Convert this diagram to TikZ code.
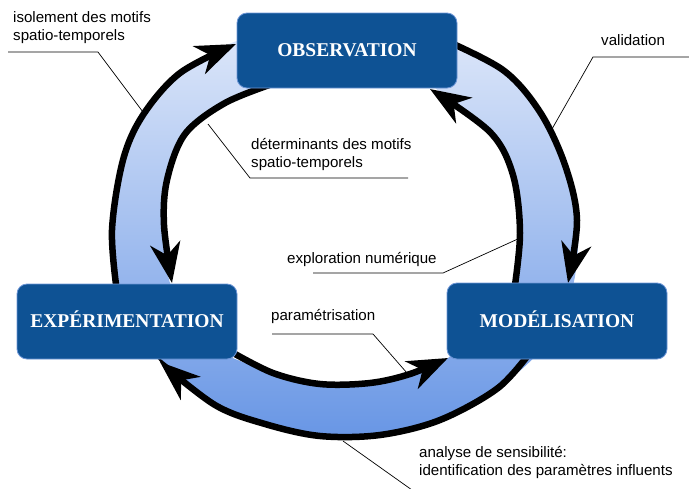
\documentclass[tikz,border=0pt]{standalone}
\usepackage{fontspec}
\setmainfont{Liberation Serif}
\newfontfamily\labelfont{Liberation Sans}
\usetikzlibrary{arrows.meta}
\definecolor{boxblue}{RGB}{14,82,148}
\definecolor{boxedge}{RGB}{110,150,215}
\definecolor{ringtop}{RGB}{224,233,250}
\definecolor{ringbot}{RGB}{104,150,229}
\begin{document}
\begin{tikzpicture}[x=1pt,y=-1pt,
  stagebox/.style={rectangle, rounded corners=10pt, fill=boxblue, draw=boxedge, line width=0.8pt,
    minimum width=220pt, minimum height=75pt, inner sep=0pt, text=white,
    font=\fontsize{19.5}{21}\selectfont\bfseries, text height=12.9pt, text depth=0pt},
  cyclearc/.style={line width=6.5pt, -{Stealth[length=40pt,width=30pt,inset=12pt]}},
  leader/.style={line width=0.7pt},
  lbl/.style={font=\labelfont\fontsize{15.1}{17.5}\selectfont, inner sep=0pt, align=left}
]
\useasboundingbox (0,0) rectangle (689,488);

% ring band
\shade[even odd rule, top color=ringtop, bottom color=ringbot]
  plot[smooth cycle, tension=0.55] coordinates {
    (180,73) (240,40) (345,22) (440,38) (503,70) (540,112) (565,165) (578,225)
    (572,290) (545,345) (498,388) (440,420) (380,435) (320,436) (265,424) (215,405)
    (165,365) (140,330) (117,292) (112,230) (123,160) (143,115)}
  plot[smooth cycle, tension=0.55] coordinates {
    (275,83) (225,103) (185,134) (167,180) (164,225) (170,283) (200,340) (273,373)
    (320,384) (370,383) (410,374) (448,358) (490,320) (514,285) (520,233) (513,175)
    (490,132) (450,102) (420,80) (345,75)};

% cycle arcs
\draw[cyclearc] plot[smooth, tension=0.55] coordinates {
  (117,292) (112,230) (123,160) (143,115) (180,73) (236,44)};
\draw[cyclearc] plot[smooth, tension=0.55] coordinates {
  (275,83) (225,103) (185,134) (167,180) (164,225) (172,283)};
\draw[cyclearc] plot[smooth, tension=0.55] coordinates {
  (440,38) (503,70) (540,112) (565,165) (577,220) (568,283)};
\draw[cyclearc] plot[smooth, tension=0.55] coordinates {
  (514,292) (520,233) (513,175) (490,132) (430,89)};
\draw[cyclearc] plot[smooth, tension=0.55] coordinates {
  (228,350) (273,373) (320,384) (370,383) (410,374) (448,358)};
\draw[cyclearc] plot[smooth, tension=0.55] coordinates {
  (532,350) (498,388) (440,420) (380,435) (320,436) (265,424) (215,405) (160,362)};

% stage boxes
\node[stagebox] (obs) at (347,50.5) {OBSERVATION};
\node[stagebox] (exp) at (127,321.5) {EXPÉRIMENTATION};
\node[stagebox, minimum height=76pt] (mod) at (557,321) {MODÉLISATION};

% labels (anchored at the baseline of the last line)
\node[lbl, anchor=base west] (liso) at (13,40) {isolement des motifs\\spatio-temporels};
\node[lbl, anchor=base west] (ldet) at (251,167) {déterminants des motifs\\spatio-temporels};
\node[lbl, anchor=base west] (lval) at (601,45) {validation};
\node[lbl, anchor=base west] (lexp) at (287,263) {exploration numérique};
\node[lbl, anchor=base west] (lpar) at (271,320) {paramétrisation};
\node[lbl, anchor=base west] (lana) at (419,475) {analyse de sensibilité:\\identification des paramètres influents};

% leader lines
\coordinate (iso0) at (8,52);   \coordinate (iso1) at (98,52);   \coordinate (iso2) at (143,112);
\coordinate (det0) at (208,124); \coordinate (det1) at (250,178); \coordinate (det2) at (408,178);
\coordinate (val0) at (689,57);  \coordinate (val1) at (593,57);  \coordinate (val2) at (552,129);
\coordinate (exn0) at (313,273); \coordinate (exn1) at (443,273); \coordinate (exn2) at (520,238);
\coordinate (par0) at (272,334); \coordinate (par1) at (373,334); \coordinate (par2) at (407,373);
\coordinate (ana0) at (343,441); \coordinate (ana1) at (412,490);
\draw[leader] (iso0) -- (iso1) -- (iso2);
\draw[leader] (det0) -- (det1) -- (det2);
\draw[leader] (val0) -- (val1) -- (val2);
\draw[leader] (exn0) -- (exn1) -- (exn2);
\draw[leader] (par0) -- (par1) -- (par2);
\draw[leader] (ana0) -- (ana1);
\end{tikzpicture}
\end{document}
